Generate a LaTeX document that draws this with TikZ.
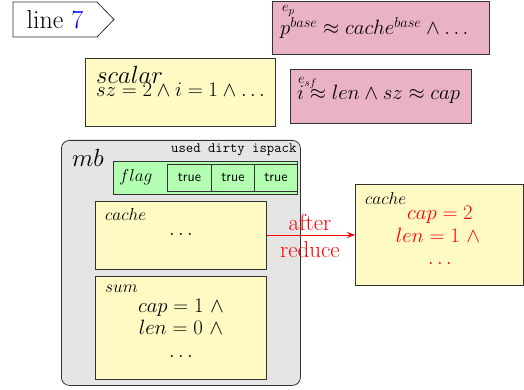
\documentclass[tikz,border=0pt]{standalone}
\usetikzlibrary{arrows.meta}
\definecolor{boxyellow}{RGB}{255,249,196}
\definecolor{boxpink}{RGB}{234,178,198}
\definecolor{boxgreen}{RGB}{178,255,178}
\definecolor{boxgray}{RGB}{229,229,229}
\newcommand\fmain{\fontsize{21.5}{24}\selectfont}
\newcommand\flab{\fontsize{16}{18}\selectfont}
\newcommand\fsup{\fontsize{15}{17}\selectfont}
\newcommand\fbig{\fontsize{25}{28}\selectfont}
\newcommand\fttx{\fontsize{14.3}{16}\selectfont}
\begin{document}
\begin{tikzpicture}[x=1pt,y=-1pt,
  box/.style={draw=black!80, line width=0.8pt, anchor=north west, inner sep=0pt},
  txt/.style={inner sep=0pt, anchor=base west},
  ctxt/.style={inner sep=0pt, anchor=base}]
\useasboundingbox (0,0) rectangle (524,390);

% line 7 tag
\draw[draw=black!80, line width=0.8pt, fill=white] (13,2) -- (97,2) -- (114,19.5) -- (97,37) -- (13,37) -- cycle;
\node[ctxt] (line) at (55,29) {\fontsize{26}{28}\selectfont line \textcolor{blue}{7}};

% scalar box
\node[box, fill=boxyellow, minimum width=190pt, minimum height=68pt] (scalar) at (85,58) {};
\node[txt] (scalarlab) at (96,84) {\fbig$scalar$};
\node[txt] (scalartxt) at (96,97) {\fmain$sz = 2 \wedge i = 1 \wedge \ldots$};

% pink boxes
\node[box, fill=boxpink, minimum width=217pt, minimum height=53pt] (ep) at (272,1) {};
\node[txt] (eplab) at (282,12) {\fsup$e_p$};
\node[txt] (eptxt) at (280,35) {\fmain$p^{base} \approx cache^{base} \wedge \ldots$};

\node[box, fill=boxpink, minimum width=181pt, minimum height=54pt] (esf) at (290,69) {};
\node[txt] (esflab) at (298,84) {\fsup$e_{sf}$};
\node[txt] (esftxt) at (297,100) {\fmain$i \approx len \wedge sz \approx cap$};

% mb box
\node[box, fill=boxgray, rounded corners=8pt, minimum width=239pt, minimum height=245pt] (mb) at (61,140) {};
\node[txt] (mblab) at (72,167) {\fbig$mb$};
\node[txt] (flagcols) at (171,153) {\fttx\ttfamily used dirty ispack};

\node[box, fill=boxgreen, minimum width=184pt, minimum height=33pt] (flag) at (113,161) {};
\node[txt] (flaglab) at (119,182) {\flab$flag$};
\node[box, fill=boxgreen, minimum width=44pt, minimum height=27pt] (t1) at (167,164) {\fttx\sffamily true};
\node[box, fill=boxgreen, minimum width=43pt, minimum height=27pt] (t2) at (211,164) {\fttx\sffamily true};
\node[box, fill=boxgreen, minimum width=43pt, minimum height=27pt] (t3) at (254,164) {\fttx\sffamily true};

\node[box, fill=boxyellow, minimum width=171pt, minimum height=68pt] (cache) at (95,201) {};
\node[txt] (cachelab) at (105,220) {\flab$cache$};
\node[ctxt] (cachetxt) at (181,235) {\fmain$\ldots$};

\node[box, fill=boxyellow, minimum width=171pt, minimum height=103pt] (sum) at (95,276) {};
\node[txt] (sumlab) at (105,292) {\flab$sum$};
\node[ctxt] (sum1) at (181,312) {\fmain$cap = 1\ \wedge$};
\node[ctxt] (sum2) at (181,334) {\fmain$len = 0\ \wedge$};
\node[ctxt] (sum3) at (181,357) {\fmain$\ldots$};

% result cache
\node[box, fill=boxyellow, minimum width=168pt, minimum height=101pt] (rcache) at (355,184) {};
\node[txt] (rcachelab) at (365,204) {\flab$cache$};
\node[ctxt, text=red] (r1) at (440,219) {\fmain$cap = 2$};
\node[ctxt, text=red] (r2) at (438,242) {\fmain$len = 1\ \wedge$};
\node[ctxt, text=red] (r3) at (440,264) {\fmain$\ldots$};

% arrow
\draw[red, line width=0.8pt, -{Stealth[length=8pt,width=6pt]}] (cache.east |- 0,235) coordinate (a0) -- (rcache.west |- 0,235) coordinate (a1);
\node[ctxt, text=red] (after) at (310,230) {\fontsize{23}{25}\selectfont after};
\node[ctxt, text=red] (reduce) at (310,257) {\fontsize{23}{25}\selectfont reduce};
\end{tikzpicture}
\end{document}
